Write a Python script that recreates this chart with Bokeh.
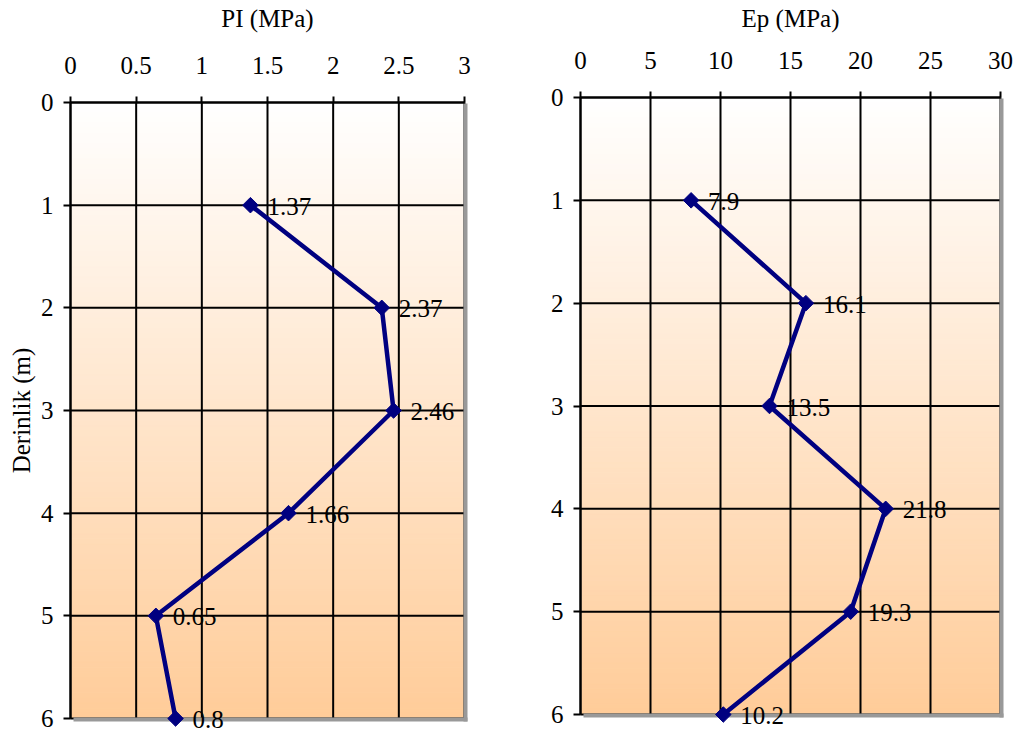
import numpy as np
from bokeh.plotting import figure
from bokeh.layouts import row
from bokeh.models import Range1d, FixedTicker, ColumnDataSource, Label
from bokeh.core.properties import value
from bokeh.embed import file_html
from bokeh.resources import INLINE

# Pressuremeter test results by depth
depth = [1, 2, 3, 4, 5, 6]
pl_values = [1.37, 2.37, 2.46, 1.66, 0.65, 0.8]
ep_values = [7.9, 16.1, 13.5, 21.8, 19.3, 10.2]

pl_ticks = [0, 0.5, 1, 1.5, 2, 2.5, 3]
pl_tick_labels = ["0", "0.5", "1", "1.5", "2", "2.5", "3"]
ep_ticks = [0, 5, 10, 15, 20, 25, 30]
ep_tick_labels = ["0", "5", "10", "15", "20", "25", "30"]
depth_ticks = [0, 1, 2, 3, 4, 5, 6]
depth_tick_labels = ["0", "1", "2", "3", "4", "5", "6"]

FONT = "Liberation Serif"
FONT_SIZE = "25px"
LINE_COLOR = "#000080"
SHADOW = "#999999"
TOP_RGB = np.array([255, 255, 255])
BOTTOM_RGB = np.array([255, 204, 153])
HEIGHT = 733
TITLE_Y = 18      # title centre, pixels from the top of the page
YLABEL_X = 21     # depth label centre, pixels from the left of the page


def panel(values, ticks, tick_labels, x_title, y_title,
          fig_w, plot_w, plot_h, left_px, top_px):
    x_max = ticks[-1]
    d_max = depth_ticks[-1]
    dx = x_max / plot_w          # data units per pixel, horizontal
    dy = d_max / plot_h          # data units per pixel, vertical
    bottom_px = HEIGHT - top_px - plot_h

    # the frame fills the whole figure; both axes are pinned at zero inside it
    p = figure(
        output_backend="svg", toolbar_location=None,
        x_axis_location="above",
        frame_width=fig_w, frame_height=HEIGHT,
        min_border_left=0, min_border_top=0,
        min_border_right=0, min_border_bottom=0,
        x_range=Range1d(-left_px * dx, (fig_w - left_px) * dx),
        y_range=Range1d(d_max + bottom_px * dy, -top_px * dy),
    )
    p.outline_line_color = None
    p.background_fill_color = "white"
    p.border_fill_color = "white"
    p.xgrid.visible = False
    p.ygrid.visible = False

    # vertical white-to-peach gradient
    edges = np.linspace(0, d_max, 121)
    mids = (edges[:-1] + edges[1:]) / 2 / d_max
    rgb = TOP_RGB[None, :] + (BOTTOM_RGB - TOP_RGB)[None, :] * mids[:, None]
    colors = ["#%02x%02x%02x" % tuple(int(round(c)) for c in col) for col in rgb]
    p.quad(left=0, right=x_max, top=edges[:-1], bottom=edges[1:],
           fill_color=colors, line_color=colors, line_width=1, level="image")

    # grid lines at every tick, limited to the plotting box
    p.segment(x0=ticks, y0=[0] * len(ticks), x1=ticks, y1=[d_max] * len(ticks),
              line_color="black", line_width=2, level="underlay")
    p.segment(x0=[0] * len(depth_ticks), y0=depth_ticks,
              x1=[x_max] * len(depth_ticks), y1=depth_ticks,
              line_color="black", line_width=2, level="underlay")

    # drop shadow along right and bottom edges
    p.quad(left=x_max - dx, right=x_max + 3 * dx, top=dy, bottom=d_max + 3 * dy,
           fill_color=SHADOW, line_color=None)
    p.quad(left=3 * dx, right=x_max + 3 * dx, top=d_max - dy, bottom=d_max + 3 * dy,
           fill_color=SHADOW, line_color=None)

    # x axis along depth 0, labels pointing up
    xa = p.xaxis[0]
    xa.fixed_location = 0
    xa.ticker = FixedTicker(ticks=ticks)
    xa.major_label_overrides = {t: l for t, l in zip(ticks, tick_labels)}
    xa.bounds = (0, x_max)
    xa.major_tick_in = 0
    xa.major_tick_out = 6
    xa.major_label_standoff = 23

    # depth axis along x = 0
    ya = p.yaxis[0]
    ya.fixed_location = 0
    ya.ticker = FixedTicker(ticks=depth_ticks)
    ya.major_label_overrides = {t: l for t, l in zip(depth_ticks, depth_tick_labels)}
    ya.bounds = (0, d_max)
    ya.major_tick_out = 7
    ya.major_tick_in = 0
    ya.major_label_standoff = 10

    for ax in (xa, ya):
        ax.axis_line_color = "black"
        ax.axis_line_width = 2
        ax.major_tick_line_color = "black"
        ax.major_tick_line_width = 2
        ax.minor_tick_line_color = None
        ax.major_label_text_font = FONT
        ax.major_label_text_font_size = FONT_SIZE
        ax.major_label_text_color = "black"

    # panel title and depth label
    p.add_layout(Label(x=x_max / 2, y=-(top_px - TITLE_Y) * dy, text=x_title,
                       text_align="center", text_baseline="middle",
                       text_font=FONT, text_font_size=FONT_SIZE,
                       text_color="black"))
    if y_title:
        p.add_layout(Label(x=-(left_px - YLABEL_X) * dx, y=d_max / 2, text=y_title,
                           angle=np.pi / 2, text_align="center",
                           text_baseline="middle", text_font=FONT,
                           text_font_size=FONT_SIZE, text_color="black"))

    src = ColumnDataSource(dict(v=values, d=depth, lab=[str(v) for v in values]))
    p.line("v", "d", source=src, line_color=LINE_COLOR, line_width=4.5)
    p.scatter("v", "d", source=src, marker="square", angle=np.pi / 4, size=11,
              fill_color=LINE_COLOR, line_color=LINE_COLOR)
    p.text("v", "d", text="lab", source=src, x_offset=17, y_offset=1,
           text_font=value(FONT), text_font_size=FONT_SIZE,
           text_baseline="middle", text_align="left", text_color="black")
    return p


p1 = panel(pl_values, pl_ticks, pl_tick_labels, "PI (MPa)", "Derinlik (m)",
           fig_w=508, plot_w=394, plot_h=616, left_px=70, top_px=102)
p2 = panel(ep_values, ep_ticks, ep_tick_labels, "Ep (MPa)", None,
           fig_w=513, plot_w=420, plot_h=617, left_px=72, top_px=97)

layout = row(p1, p2)
open("out.html", "w").write(file_html(layout, INLINE))
